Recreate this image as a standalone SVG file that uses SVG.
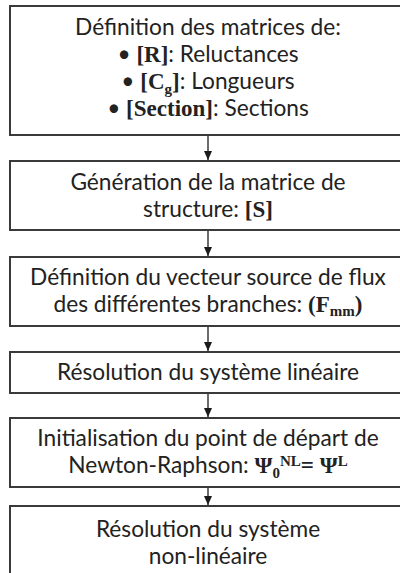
<svg xmlns="http://www.w3.org/2000/svg" width="400" height="573" viewBox="0 0 400 573">
<defs>
<style>
.box{fill:#fff;stroke:#3a3a3a;stroke-width:2}
.t{font-family:Lato,"Noto Sans",sans-serif;font-size:22.7px;fill:#222;text-anchor:middle}
.m{font-family:"Liberation Serif","Times New Roman",serif;font-weight:bold;font-size:23px}
.s{font-size:15px}
.c{stroke:#3a3a3a;stroke-width:1.5;fill:none}
</style>
<marker id="ah" markerWidth="10" markerHeight="8" refX="9" refY="4" orient="auto" markerUnits="userSpaceOnUse">
<path d="M0,0 L9,4 L0,8 Z" fill="#1a1a1a"/>
</marker>
</defs>
<rect width="400" height="573" fill="#fff"/>
<g id="n1">
<rect class="box" x="10" y="6" width="396" height="129"/>
<text class="t" x="208" y="35">Définition des matrices de:</text>
<text class="t" x="208" y="62">• <tspan class="m">[R]</tspan>: Reluctances</text>
<text class="t" x="208" y="89">• <tspan class="m">[C</tspan><tspan class="m s" dy="5">g</tspan><tspan class="m" dy="-5">]</tspan>: Longueurs</text>
<text class="t" x="208" y="116">• <tspan class="m">[Section]</tspan>: Sections</text>
</g>
<g id="n2">
<rect class="box" x="10" y="161" width="396" height="69"/>
<text class="t" x="208" y="190">Génération de la matrice de</text>
<text class="t" x="208" y="217">structure: <tspan class="m">[S]</tspan></text>
</g>
<g id="n3">
<rect class="box" x="10" y="257" width="396" height="69"/>
<text class="t" x="208" y="285">Définition du vecteur source de flux</text>
<text class="t" x="208" y="312">des différentes branches: <tspan class="m">(F</tspan><tspan class="m s" dy="4">mm</tspan><tspan class="m" dy="-4">)</tspan></text>
</g>
<g id="n4">
<rect class="box" x="10" y="352" width="396" height="41"/>
<text class="t" x="208" y="380">Résolution du système linéaire</text>
</g>
<g id="n5">
<rect class="box" x="10" y="418" width="396" height="69"/>
<text class="t" x="208" y="446">Initialisation du point de départ de</text>
<text class="t" x="208" y="473">Newton-Raphson: <tspan class="m">Ψ</tspan><tspan class="m s" dy="5">0</tspan><tspan class="m s" dy="-12">NL</tspan><tspan class="m" dy="7">= Ψ</tspan><tspan class="m s" dy="-7">L</tspan></text>
</g>
<g id="n6">
<rect class="box" x="10" y="506" width="396" height="80"/>
<text class="t" x="208" y="537">Résolution du système</text>
<text class="t" x="208" y="564">non-linéaire</text>
</g>
<g id="connectors">
<line class="c" x1="208" y1="135" x2="208" y2="160" marker-end="url(#ah)"/>
<line class="c" x1="208" y1="230" x2="208" y2="256" marker-end="url(#ah)"/>
<line class="c" x1="208" y1="326" x2="208" y2="351" marker-end="url(#ah)"/>
<line class="c" x1="208" y1="393" x2="208" y2="417" marker-end="url(#ah)"/>
<line class="c" x1="208" y1="487" x2="208" y2="505" marker-end="url(#ah)"/>
</g>
</svg>
